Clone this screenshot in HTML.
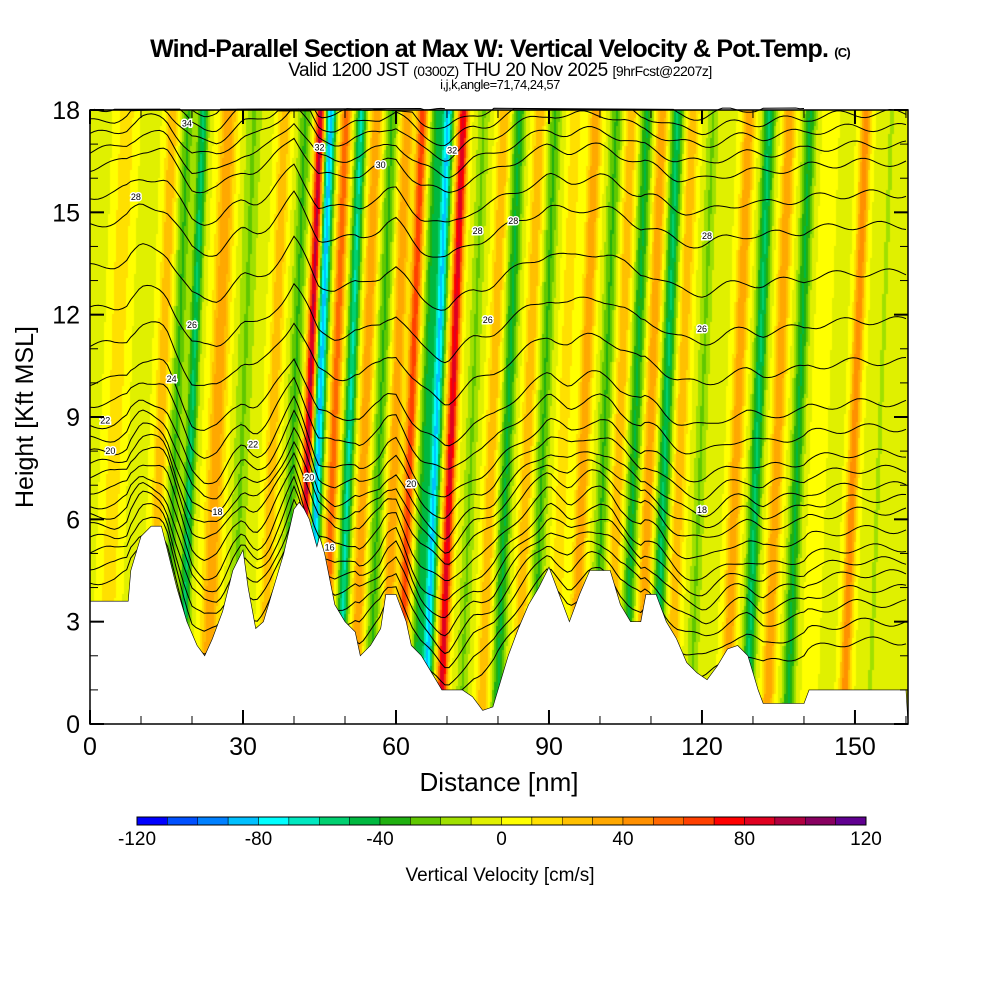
<!DOCTYPE html>
<html><head><meta charset="utf-8">
<style>
html,body{margin:0;padding:0;background:#fff;}
body{width:1000px;height:1000px;position:relative;overflow:hidden;font-family:"Liberation Sans",sans-serif;}
.t{position:absolute;left:0;width:1000px;text-align:center;color:#000;white-space:nowrap;}
canvas{position:absolute;left:90px;top:110px;}
svg{position:absolute;left:0;top:0;}
</style></head><body>
<div class="t" style="top:35px;font-size:25px;font-weight:bold;letter-spacing:-0.8px;">Wind-Parallel Section at Max W: Vertical Velocity &amp; Pot.Temp. <span style="font-size:13px">(C)</span></div>
<div class="t" style="top:60px;font-size:19px;letter-spacing:-0.5px;">Valid 1200 JST <span style="font-size:14px">(0300Z)</span> THU 20 Nov 2025 <span style="font-size:14px">[9hrFcst@2207z]</span></div>
<div class="t" style="top:77px;font-size:13px;letter-spacing:-0.5px;">i,j,k,angle=71,74,24,57</div>
<canvas id="cv" width="818" height="614"></canvas>
<svg id="sv" width="1000" height="1000"></svg>
<script>
// ---- data ----
const streakPos = [5,14,17,20,25,30,36,40,43,45,48,51,54,57,60,63,66,68,71,75,79,82,86,89,93,97,101,104,107,110,113,116,120,127,131,135,139,143,150,155];
const streakVal = [20,30,-30,-50,40,-20,30,-30,95,-85,60,-60,40,-30,40,70,-40,-80,90,-20,30,-40,30,-30,20,40,-30,30,-40,40,-50,30,-20,40,-50,40,-40,10,50,-10];
const streakWid = [1.6,1.2,1.2,1,1.6,1.6,1.2,1.2,0.9,1,1,1,1.2,1.2,1.2,1,1.2,1,1,1.2,1.2,1.2,1.2,1.2,1.2,1.2,1.2,1.2,1.2,1.2,1.2,1.2,1.2,1.2,1.2,1.2,1.2,1.2,1,1.2];
const terrX = [0,7.5,8,10,12,14,15,17,19,21,22.5,24,26,28,30,31,32.5,34,36,38,40,41,42,43,44.5,45,46,48,50,52,53,55,57,58,60,62,63,65,67,69,73,75,77,79,80,82,84,86,88,90,92,94,96,98,102,104,106,108,109,111,113,115,117,119,121,123,125,127,129,130,131,132,140,141,160];
const terrH = [3.6,3.6,4.5,5.5,5.8,5.8,5.2,4,3,2.3,2,2.5,3.3,4.5,5.1,4,2.8,3,4,5,6.3,6.5,6.3,6,5.2,5.5,5,3.5,3,2.7,2,2.3,2.8,3.8,3.8,3,2.3,2,1.5,1,1,0.8,0.4,0.5,1,2,2.8,3.5,4,4.6,3.8,3,3.8,4.5,4.5,3.5,3,3,3.8,3.8,3,2.5,1.8,1.5,1.3,1.7,2.2,2.3,2,1.5,1,0.6,0.6,1,1];
const thetaLev = [10,12,14,16,18,20,22,24,26,28,30,32,34,36];
const thetaH = [3.5,4.5,5.3,6.0,7.0,7.7,8.6,10,12.3,15,16.8,17.8,18.6,19.5];
const dispX = [0,5,10,15,20,25,30,35,40,45,50,55,60,65,70,75,80,85,90,95,100,105,110,115,120,125,130,135,140,145,150,155,160];
const dispV = [0.5,0.5,0.8,0.5,-1.0,-1.3,-0.8,-0.5,0.3,-1.5,-1.2,-0.8,-0.5,-1.5,-1.8,-1,-0.6,-0.3,0,0,0,-0.3,-0.8,-1.2,-1.2,-1.0,-0.8,-0.6,-0.5,-0.4,-0.3,-0.3,-0.3];
const cbVals = [-120,-80,-40,0,40,80,120];
const xTicks = [0,30,60,90,120,150];
const yTicks = [0,3,6,9,12,15,18];
const colors = ["#0000ff","#0050ff","#0080ff","#00c0ff","#00ffff","#00e8c0","#00d070","#00b840","#20b010","#60c800","#a0e000","#e0f000","#ffff00","#ffe000","#ffc000","#ffa800","#ff9000","#ff6800","#ff4000","#ff0000","#e00020","#b00040","#880060","#600090"];
// ---- axes ----
const X0=90,X1=908,Y0=724,Y1=110;
const sx=v=>X0+v*(X1-X0)/160.4;
const sy=v=>Y0-v*(Y0-Y1)/18;
function interp(xs,ys,x){if(x<=xs[0])return ys[0];for(let i=1;i<xs.length;i++){if(x<=xs[i]){const t=(x-xs[i-1])/(xs[i]-xs[i-1]);return ys[i-1]+t*(ys[i]-ys[i-1]);}}return ys[ys.length-1];}
function wAt(x,h){let s=-1;for(let i=0;i<streakPos.length;i++){const c=streakPos[i]+0.25*(h-9);const d=(x-c)/streakWid[i];s+=streakVal[i]*Math.exp(-d*d);}return s;}
// field
const cv=document.getElementById('cv'),ctx=cv.getContext('2d');
for(let px=0;px<818;px+=2){for(let py=0;py<614;py+=4){const x=(px+1)*160.4/818,h=18-(py+2)*18/614;let v=wAt(x,h);let b=Math.floor((v+120)/10);b=Math.max(0,Math.min(23,b));ctx.fillStyle=colors[b];ctx.fillRect(px,py,2,4);}}
const sv=document.getElementById('sv');const NS='http://www.w3.org/2000/svg';
function mk(tag,at){const e=document.createElementNS(NS,tag);for(const k in at)e.setAttribute(k,at[k]);sv.appendChild(e);return e;}
// contours
for(let th=10;th<=36;th+=1){let d='';for(let x=0;x<=160.4;x+=0.8){const H=interp(thetaLev,thetaH,th);const tr=interp(terrX,terrH,x);const f=Math.exp(-Math.max(0,H-3)/9);let h=H+interp(dispX,dispV,x)*(0.4+f)+(tr-3)*0.35*f-(x<40?(40-x)/40*0.9*(H/18):0)+0.12*Math.sin(x*0.6+th);const y=sy(h);if(y<Y1-2)continue;d+=(d?'L':'M')+sx(x).toFixed(1)+','+y.toFixed(1);}
 if(d){const p=mk('path',{d:d,fill:'none',stroke:'#000','stroke-width':'1'});}}
// contour labels
const labX=[19,45,57,76,78,120,3,4,120,42,45,71,83,121,9,32,43,25,47,16,20,63];
const labV=[34,32,30,28,26,26,22,20,18,16,14,32,28,28,28,22,20,18,16,24,26,20];
labX.forEach((x,i)=>{const H=interp(thetaLev,thetaH,labV[i]);const h=Math.min(17.6,H+interp(dispX,dispV,x)*0.6);const g=mk('text',{x:sx(x),y:sy(h)+3,'font-size':'9','text-anchor':'middle','font-family':'Liberation Sans',stroke:'#fff','stroke-width':'3','paint-order':'stroke'});g.textContent=labV[i];});
// terrain
let td='M'+sx(0)+','+sy(0);terrX.forEach((x,i)=>{td+='L'+sx(x).toFixed(1)+','+sy(terrH[i]).toFixed(1);});td+='L'+X1+','+sy(0)+'Z';
const tp=mk('path',{d:td,fill:'#fff',stroke:'#000','stroke-width':'0.6'});
// frame
const fr=mk('rect',{x:X0,y:Y1,width:X1-X0,height:Y0-Y1,fill:'none',stroke:'#000','stroke-width':'1.5'});
for(let v=0;v<=160;v+=10){const maj=v%30==0;const l=maj?14:8;mk('line',{x1:sx(v),x2:sx(v),y1:Y0,y2:Y0-l,stroke:'#000','stroke-width':maj?2:1});mk('line',{x1:sx(v),x2:sx(v),y1:Y1,y2:Y1+l,stroke:'#000','stroke-width':maj?2:1});}
for(let v=0;v<=18;v+=1){const maj=v%3==0;const l=maj?14:8;mk('line',{x1:X0,x2:X0+l,y1:sy(v),y2:sy(v),stroke:'#000','stroke-width':maj?2:1});mk('line',{x1:X1,x2:X1-l,y1:sy(v),y2:sy(v),stroke:'#000','stroke-width':maj?2:1});}
xTicks.forEach(v=>{const t=mk('text',{x:sx(v),y:755,'font-size':'25','text-anchor':'middle'});t.textContent=v;});
yTicks.forEach(v=>{const t=mk('text',{x:80,y:sy(v)+9,'font-size':'25','text-anchor':'end'});t.textContent=v;});
const xt=mk('text',{x:499,y:791,'font-size':'26','text-anchor':'middle'});xt.textContent='Distance [nm]';
const yt=mk('text',{x:33,y:417,'font-size':'25','text-anchor':'middle',transform:'rotate(-90 33 417)'});yt.textContent='Height [Kft MSL]';
// colorbar
const CB0=137,CB1=866,cw=(CB1-CB0)/24;
colors.forEach((c,i)=>{const r=mk('rect',{x:CB0+i*cw,y:817,width:cw,height:8,fill:c,stroke:'#000','stroke-width':'0.5'});});
mk('rect',{x:CB0,y:817,width:CB1-CB0,height:8,fill:'none',stroke:'#000','stroke-width':'1'});
cbVals.forEach(v=>{const t=mk('text',{x:CB0+(v+120)/240*(CB1-CB0),y:845,'font-size':'19','text-anchor':'middle'});t.textContent=v;});
const ct=mk('text',{x:500,y:881,'font-size':'19','text-anchor':'middle'});ct.textContent='Vertical Velocity [cm/s]';
</script>
</body></html>
